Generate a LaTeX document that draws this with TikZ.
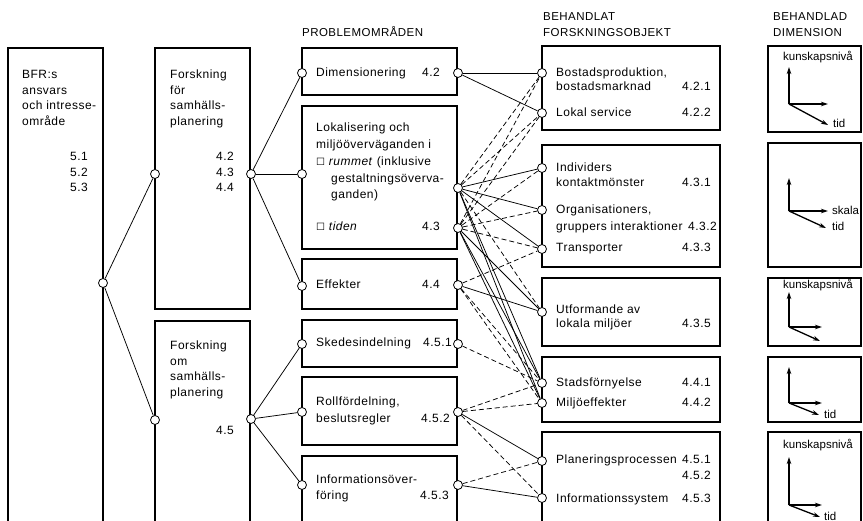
\documentclass[tikz,border=0pt]{standalone}
\usepackage{fontspec}
\setmainfont{Liberation Sans}[LetterSpace=4]
\newfontfamily\plainf{Liberation Sans}
\newfontfamily\symf{DejaVu Sans}
\usetikzlibrary{arrows.meta}
\begin{document}
\begin{tikzpicture}[x=1pt,y=-1pt,
 boxline/.style={line width=1.8pt, line join=miter},
 conn/.style={line width=0.75pt},
 dconn/.style={conn, dash pattern=on 5pt off 3pt},
 port/.style={circle, draw, fill=white, line width=0.8pt, minimum size=9pt, inner sep=0pt},
 txt/.style={inner sep=0pt, font=\fontsize{12}{14}\selectfont, anchor=base west},
 num/.style={txt, anchor=base east},
 head/.style={txt, font=\fontsize{11.5}{14}\selectfont},
 dim/.style={txt, font=\plainf\fontsize{11.5}{14}\selectfont},
 axis/.style={line width=1.3pt, -{Stealth[length=7pt,width=4.5pt]}},
]
\useasboundingbox (0,0) rectangle (863,521);
\fill[white] (0,0) rectangle (863,521);

% ---------- boxes ----------
\draw[boxline] (8,521) -- (8,48) -- (103,48) -- (103,521);
\draw[boxline] (155,48) rectangle (250,309);
\draw[boxline] (155,521) -- (155,321) -- (250,321) -- (250,521);
\draw[boxline] (302,48) rectangle (457,95);
\draw[boxline] (302,106) rectangle (457,249);
\draw[boxline] (302,259) rectangle (457,309);
\draw[boxline] (302,320) rectangle (457,367);
\draw[boxline] (302,377) rectangle (457,445);
\draw[boxline] (302,521) -- (302,456) -- (457,456) -- (457,521);
\draw[boxline] (542,46) rectangle (720,130);
\draw[boxline] (542,145) rectangle (720,267);
\draw[boxline] (542,278) rectangle (720,346);
\draw[boxline] (542,357) rectangle (720,422);
\draw[boxline] (542,521) -- (542,432) -- (720,432) -- (720,521);
\draw[boxline] (768,46) rectangle (861,132);
\draw[boxline] (768,143) rectangle (861,267);
\draw[boxline] (768,278) rectangle (861,346);
\draw[boxline] (768,357) rectangle (861,422);
\draw[boxline] (768,521) -- (768,432) -- (861,432) -- (861,521);

% ---------- texts ----------
\node[txt] (t1a) at (22,79) {BFR:s};
\node[txt] (t1b) at (22,94.5) {ansvars};
\node[txt] (t1c) at (22,110) {och intresse-};
\node[txt] (t1d) at (22,125.5) {område};
\node[num] (t1e) at (88,161) {5.1};
\node[num] (t1f) at (88,177) {5.2};
\node[num] (t1g) at (88,192) {5.3};

\node[txt] (t2a) at (170,79) {Forskning};
\node[txt] (t2b) at (170,94.5) {för};
\node[txt] (t2c) at (170,110) {samhälls-};
\node[txt] (t2d) at (170,125.5) {planering};
\node[num] (t2e) at (234,161) {4.2};
\node[num] (t2f) at (234,177) {4.3};
\node[num] (t2g) at (234,192) {4.4};

\node[txt] (t3a) at (170,350) {Forskning};
\node[txt] (t3b) at (170,365.5) {om};
\node[txt] (t3c) at (170,381) {samhälls-};
\node[txt] (t3d) at (170,396.5) {planering};
\node[num] (t3e) at (234,435) {4.5};

\node[head] (h3) at (302,37) {PROBLEMOMRÅDEN};
\node[txt] (d1) at (316,77) {Dimensionering};
\node[num] (d2) at (440,77) {4.2};
\node[txt] (l1) at (316,132) {Lokalisering och};
\node[txt] (l2) at (316,149) {miljööverväganden i};
\node[txt] (l3) at (316,166) {{\symf\fontsize{10}{12}\selectfont ☐} \textit{rummet} (inklusive};
\node[txt] (l4) at (331,183) {gestaltningsöverva-};
\node[txt] (l5) at (331,199) {ganden)};
\node[txt] (l6) at (316,231) {{\symf\fontsize{10}{12}\selectfont ☐} \textit{tiden}};
\node[num] (l7) at (440,231) {4.3};
\node[txt] (e1) at (316,289) {Effekter};
\node[num] (e2) at (440,289) {4.4};
\node[txt] (s1) at (316,347) {Skedesindelning};
\node[num] (s2) at (452,347) {4.5.1};
\node[txt] (r1) at (316,406) {Rollfördelning,};
\node[txt] (r2) at (316,423) {beslutsregler};
\node[num] (r3) at (450,423) {4.5.2};
\node[txt] (i1) at (316,484) {Informationsöver-};
\node[txt] (i2) at (316,500) {föring};
\node[num] (i3) at (449,500) {4.5.3};

\node[head] (h4a) at (543,21) {BEHANDLAT};
\node[head] (h4b) at (543,37) {FORSKNINGSOBJEKT};
\node[txt] (a1) at (556,77) {Bostadsproduktion,};
\node[txt] (a2) at (556,91) {bostadsmarknad};
\node[num] (a3) at (711,91) {4.2.1};
\node[txt] (a4) at (556,117) {Lokal service};
\node[num] (a5) at (711,117) {4.2.2};
\node[txt] (b1) at (556,172) {Individers};
\node[txt] (b2) at (556,187) {kontaktmönster};
\node[num] (b3) at (711,187) {4.3.1};
\node[txt] (b4) at (556,214) {Organisationers,};
\node[txt] (b5) at (556,231) {gruppers interaktioner};
\node[num] (b6) at (717,231) {4.3.2};
\node[txt] (b7) at (556,252) {Transporter};
\node[num] (b8) at (711,252) {4.3.3};
\node[txt] (u1) at (556,314) {Utformande av};
\node[txt] (u2) at (556,328) {lokala miljöer};
\node[num] (u3) at (711,328) {4.3.5};
\node[txt] (m1) at (556,387) {Stadsförnyelse};
\node[num] (m2) at (711,387) {4.4.1};
\node[txt] (m3) at (556,407) {Miljöeffekter};
\node[num] (m4) at (711,407) {4.4.2};
\node[txt] (q1) at (556,464) {Planeringsprocessen};
\node[num] (q2) at (711,464) {4.5.1};
\node[num] (q3) at (711,479) {4.5.2};
\node[txt] (q4) at (556,502) {Informationssystem};
\node[num] (q5) at (711,502) {4.5.3};

\node[head] (h5a) at (773,21) {BEHANDLAD};
\node[head] (h5b) at (773,36.5) {DIMENSION};
\node[dim] (k1) at (783,61) {kunskapsnivå};
\node[dim] (k3) at (783,289) {kunskapsnivå};
\node[dim] (k5) at (783,449) {kunskapsnivå};
\node[dim] (tid1) at (833,128) {tid};
\node[dim] (sk2) at (832,215) {skala};
\node[dim] (tid2) at (832,231) {tid};
\node[dim] (tid4) at (824,419) {tid};
\node[dim] (tid5) at (824,520) {tid};

% ---------- axes ----------
\draw[axis] (789,104) -- (789,67);
\draw[axis] (789,104) -- (828,104);
\draw[axis] (789,104) -- (828,125);
\draw[axis] (789,211) -- (789,178);
\draw[axis] (789,211) -- (828,211);
\draw[axis] (789,211) -- (826,228);
\draw[axis] (789,327) -- (789,292);
\draw[axis] (789,327) -- (822,327);
\draw[axis] (789,327) -- (820,341);
\draw[axis] (789,403) -- (789,367);
\draw[axis] (789,403) -- (822,403);
\draw[axis] (789,403) -- (819,415);
\draw[axis] (789,505) -- (789,457);
\draw[axis] (789,505) -- (822,505);
\draw[axis] (789,505) -- (820,517);

% ---------- ports ----------
\node[port] (c0) at (103,283) {};
\node[port] (c1) at (155,174) {};
\node[port] (c2) at (251,174) {};
\node[port] (c3) at (155,420) {};
\node[port] (c4) at (251,419) {};
\node[port] (dimL) at (302,73) {};
\node[port] (lokL) at (302,174) {};
\node[port] (effL) at (302,286) {};
\node[port] (skeL) at (302,344) {};
\node[port] (rolL) at (302,412) {};
\node[port] (infL) at (302,485) {};
\node[port] (dimR) at (458,73) {};
\node[port] (rumR) at (458,188) {};
\node[port] (tidR) at (458,228) {};
\node[port] (effR) at (458,285) {};
\node[port] (skeR) at (458,344) {};
\node[port] (rolR) at (458,412) {};
\node[port] (infR) at (458,485) {};
\node[port] (bos) at (542,73) {};
\node[port] (lok) at (542,113) {};
\node[port] (ind) at (542,168) {};
\node[port] (org) at (542,210) {};
\node[port] (tra) at (542,249) {};
\node[port] (utf) at (542,312) {};
\node[port] (sta) at (542,383) {};
\node[port] (mil) at (542,403) {};
\node[port] (pla) at (542,461) {};
\node[port] (ins) at (542,498) {};

% ---------- connectors ----------
\draw[conn] (c0) -- (c1);
\draw[conn] (c0) -- (c3);
\draw[conn] (c2) -- (dimL);
\draw[conn] (c2) -- (lokL);
\draw[conn] (c2) -- (effL);
\draw[conn] (c4) -- (skeL);
\draw[conn] (c4) -- (rolL);
\draw[conn] (c4) -- (infL);

\draw[conn] (dimR) -- (bos);
\draw[conn] (dimR) -- (lok);

\draw[dconn] (rumR) -- (bos);
\draw[dconn] (rumR) -- (lok);
\draw[conn] (rumR) -- (ind);
\draw[conn] (rumR) -- (org);
\draw[conn] (rumR) -- (tra);
\draw[dconn] (rumR) -- (utf);
\draw[conn] (rumR) -- (sta);
\draw[conn] (rumR) -- (mil);

\draw[dconn] (tidR) -- (bos);
\draw[dconn] (tidR) -- (lok);
\draw[dconn] (tidR) -- (ind);
\draw[dconn] (tidR) -- (org);
\draw[dconn] (tidR) -- (tra);
\draw[conn] (tidR) -- (utf);
\draw[conn] (tidR) -- (sta);
\draw[conn] (tidR) -- (mil);

\draw[dconn] (effR) -- (tra);
\draw[conn] (effR) -- (utf);
\draw[dconn] (effR) -- (sta);
\draw[dconn] (effR) -- (mil);

\draw[dconn] (skeR) -- (sta);

\draw[dconn] (rolR) -- (sta);
\draw[dconn] (rolR) -- (mil);
\draw[conn] (rolR) -- (pla);
\draw[dconn] (rolR) -- (ins);

\draw[dconn] (infR) -- (pla);
\draw[conn] (infR) -- (ins);
\end{tikzpicture}
\end{document}
